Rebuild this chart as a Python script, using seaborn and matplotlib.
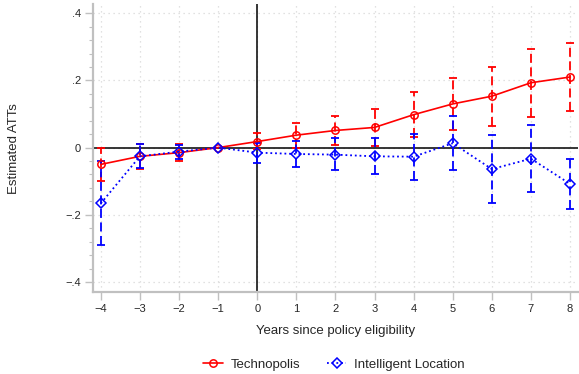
import numpy as np
import pandas as pd
import matplotlib
matplotlib.use("Agg")
import matplotlib.pyplot as plt
import seaborn as sns
from matplotlib.ticker import MultipleLocator

years = [-4, -3, -2, -1, 0, 1, 2, 3, 4, 5, 6, 7, 8]
techno_att = [-0.050, -0.026, -0.015, 0.0, 0.018, 0.037, 0.051, 0.060, 0.098, 0.130, 0.153, 0.193, 0.210]
techno_lo = [-0.098, -0.063, -0.040, 0.0, -0.005, 0.000, 0.007, 0.005, 0.031, 0.053, 0.065, 0.091, 0.110]
techno_hi = [0.000, 0.010, 0.010, 0.0, 0.043, 0.074, 0.095, 0.115, 0.164, 0.207, 0.240, 0.294, 0.310]
il_att = [-0.166, -0.026, -0.012, 0.0, -0.015, -0.019, -0.021, -0.026, -0.027, 0.013, -0.064, -0.033, -0.108]
il_lo = [-0.290, -0.060, -0.033, 0.0, -0.045, -0.057, -0.066, -0.079, -0.095, -0.067, -0.164, -0.131, -0.184]
il_hi = [-0.041, 0.011, 0.009, 0.0, 0.015, 0.019, 0.029, 0.029, 0.041, 0.095, 0.038, 0.068, -0.033]
series_names = ["Technopolis", "Intelligent Location"]
ytick_vals = [-0.4, -0.2, 0.0, 0.2, 0.4]
ytick_labels = ["\u2212.4", "\u2212.2", "0", ".2", ".4"]

sns.set_style("white")
plt.rcParams["font.family"] = ["Liberation Sans", "DejaVu Sans"]

fig = plt.figure(figsize=(5.79, 3.74), dpi=100)
ax = fig.add_axes([0.1606, 0.219, 0.8374, 0.770])

df = pd.DataFrame({
    "year": years * 2,
    "att": techno_att + il_att,
    "series": [series_names[0]] * len(years) + [series_names[1]] * len(years),
})

ax.axhline(0, color="black", lw=1.1, zorder=1)
ax.axvline(0, color="black", lw=1.1, zorder=1)

colors = {"Technopolis": "#ff0000", "Intelligent Location": "#0000ff"}

for name, att, lo, hi in [(series_names[0], techno_att, techno_lo, techno_hi),
                          (series_names[1], il_att, il_lo, il_hi)]:
    att = np.array(att); lo = np.array(lo); hi = np.array(hi)
    mask = np.array(years) != -1
    yerr = np.vstack([att - lo, hi - att])[:, mask]
    eb = ax.errorbar(np.array(years)[mask], att[mask], yerr=yerr, fmt="none",
                     ecolor=colors[name], elinewidth=1.3, capsize=2.8,
                     capthick=1.3, zorder=3)
    eb[2][0].set_linestyle((0, (5, 2.5)))

sns.lineplot(data=df[df.series == series_names[0]], x="year", y="att", ax=ax,
             color=colors[series_names[0]], lw=1.2, marker="o", markersize=5.3,
             markerfacecolor="none", markeredgecolor=colors[series_names[0]],
             markeredgewidth=1.1, label=series_names[0], zorder=4)
sns.lineplot(data=df[df.series == series_names[1]], x="year", y="att", ax=ax,
             color=colors[series_names[1]], lw=1.3, linestyle=(0, (1, 1.6)),
             marker="D", markersize=4.6, markerfacecolor="none",
             markeredgecolor=colors[series_names[1]], markeredgewidth=1.1,
             label=series_names[1], zorder=5)

ax.set_xlim(-4.2, 8.2)
ax.set_ylim(-0.43, 0.427)
ax.set_xticks(years)
ax.set_xticklabels([str(y).replace("-", "\u2212") for y in years])
ax.set_yticks(ytick_vals)
ax.set_yticklabels(ytick_labels)
ax.yaxis.set_minor_locator(MultipleLocator(0.04))
ax.tick_params(axis="both", which="major", direction="out", length=5.5, width=1,
               color="#c0c0c0", labelsize=8, pad=3)
ax.tick_params(axis="y", which="minor", direction="out", length=3, width=0.8,
               color="#c0c0c0", left=True)
ax.tick_params(axis="x", bottom=True)
ax.tick_params(axis="y", left=True)

ax.grid(True, which="major", color="#d8d8d8", ls=(0, (1, 3)), lw=0.9)
ax.set_axisbelow(True)
for s in ["top", "right"]:
    ax.spines[s].set_visible(False)
for s in ["left", "bottom"]:
    ax.spines[s].set_color("#c0c0c0")
    ax.spines[s].set_linewidth(1.6)

ax.set_xlabel("Years since policy eligibility", fontsize=9.5, labelpad=8)
ax.set_ylabel("Estimated ATTs", fontsize=9.5, labelpad=33)

ax.legend(loc="upper center", bbox_to_anchor=(0.497, -0.19), ncol=2, frameon=False,
          fontsize=9.5, handlelength=1.5, columnspacing=2.0, handletextpad=0.6)

fig.savefig("out.png", dpi=100)
